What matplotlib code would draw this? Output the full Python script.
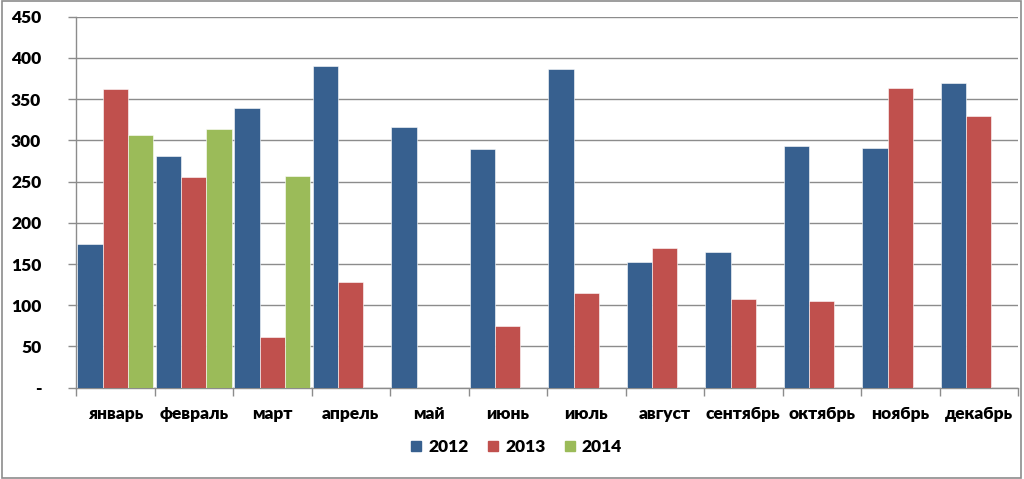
import matplotlib
matplotlib.use("Agg")
import matplotlib.pyplot as plt
from matplotlib.patches import Rectangle
from matplotlib.lines import Line2D
import numpy as np

months = ["январь", "февраль", "март", "апрель", "май", "июнь", "июль",
          "август", "сентябрь", "октябрь", "ноябрь", "декабрь"]
years = ["2012", "2013", "2014"]
v2012 = [174, 281, 339, 390, 316, 290, 387, 152, 165, 293, 291, 370]
v2013 = [362, 255, 61, 128, 0, 75, 115, 170, 107, 105, 364, 329]
v2014 = [307, 314, 257, None, None, None, None, None, None, None, None, None]
colors = ["#37608F", "#C0504D", "#9BBB59"]
yticks = [0, 50, 100, 150, 200, 250, 300, 350, 400, 450]
ytick_labels = ["-"] + [str(t) for t in yticks[1:]]

plt.rcParams['font.family'] = ['Lato', 'DejaVu Sans']
FS = 12.5
fig = plt.figure(figsize=(10.24, 4.79), dpi=100)
ax = fig.add_axes([76/1024, 1-387.7/479, (1018-76)/1024, (387.7-16.7)/479])

x = np.arange(len(months))
w = 0.323
series = [v2012, v2013, v2014]
for i, (vals, c, yr) in enumerate(zip(series, colors, years)):
    xs = [xi + (i-1)*w for xi, v in zip(x, vals) if v is not None]
    hs = [v for v in vals if v is not None]
    ax.bar(xs, hs, width=w, color=c, edgecolor="#ffffff", linewidth=0.4, label=yr, zorder=3)

ax.set_xlim(-0.5, len(months)-0.5)
ax.set_ylim(0, 450)
ax.set_yticks(yticks)
ax.set_yticklabels(ytick_labels, fontsize=FS, fontweight="heavy")
ax.yaxis.grid(True, color="#8C8C8C", linewidth=1.0, zorder=0)
ax.set_axisbelow(True)

ax.set_xticks(np.arange(-0.5, len(months)), minor=False)
ax.set_xticklabels([])
ax.set_xticks(x, minor=True)
ax.set_xticklabels(months, minor=True, fontsize=FS, fontweight="heavy")
ax.tick_params(axis="x", which="major", length=6, color="#8C8C8C", width=1)
ax.tick_params(axis="x", which="minor", length=0, pad=13)
ax.tick_params(axis="y", length=6, color="#8C8C8C", width=1, pad=19)

for s in ["top", "right"]:
    ax.spines[s].set_visible(False)
for s in ["left", "bottom"]:
    ax.spines[s].set_color("#8C8C8C")
    ax.spines[s].set_linewidth(1)

handles = [Line2D([0], [0], marker="s", linestyle="none", markersize=7,
                  markerfacecolor=c, markeredgecolor=c) for c in colors]
fig.legend(handles, years, loc="center", bbox_to_anchor=(514/1024, 1-447/479),
           ncol=3, frameon=False, prop={"size": FS, "weight": "heavy"},
           handletextpad=0.1, columnspacing=0.8, handlelength=1.2)

fig.patches.append(Rectangle((0.002, 0.003), 0.995, 0.994, transform=fig.transFigure,
                             fill=False, edgecolor="#8C8C8C", linewidth=1.2))

fig.savefig("out.png", dpi=100)
